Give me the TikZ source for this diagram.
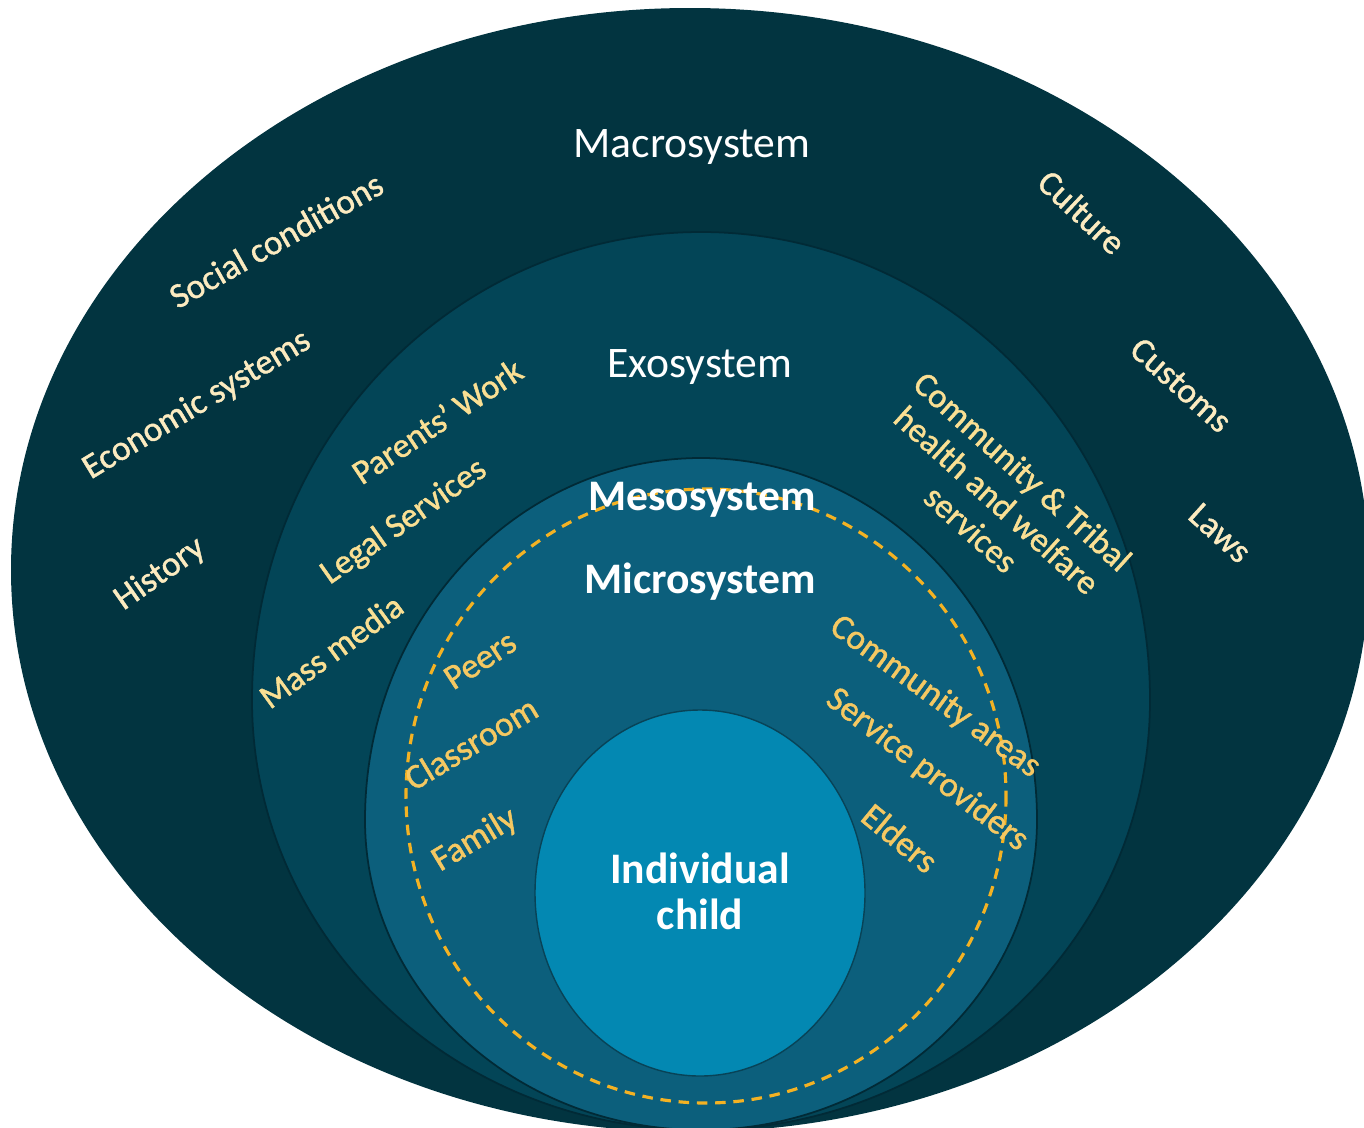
\documentclass[tikz,border=0pt]{standalone}
\usepackage{fontspec}
\setmainfont{Carlito}
\newfontfamily\labfont{Carlito}[RawFeature={embolden=1.2}]
\definecolor{macrocol}{HTML}{023440}
\definecolor{exocol}{HTML}{034557}
\definecolor{mesocol}{HTML}{0C5F7C}
\definecolor{childcol}{HTML}{0388B2}
\definecolor{edgecol}{HTML}{012A36}
\definecolor{dashcol}{HTML}{F4B223}
\definecolor{maclabcol}{HTML}{FCEBC0}
\definecolor{exolabcol}{HTML}{FADF93}
\definecolor{miclabcol}{HTML}{F5C862}
\begin{document}
\begin{tikzpicture}[x=0.01cm,y=-0.01cm,
  ring/.style={draw=edgecol, line width=0.5pt},
  title/.style={text=white, inner sep=0pt, font=\fontsize{12.4}{14}\selectfont},
  titleb/.style={text=white, inner sep=0pt, align=center, font=\fontsize{12.4}{13.1}\bfseries\selectfont},
  maclab/.style={text=maclabcol, inner sep=0pt, font=\labfont\fontsize{10}{12}\selectfont},
  exolab/.style={text=exolabcol, inner sep=0pt, align=center, font=\labfont\fontsize{9.8}{11}\selectfont},
  miclab/.style={text=miclabcol, inner sep=0pt, font=\labfont\fontsize{10}{12}\selectfont},
  dashring/.style={draw=dashcol, line width=0.9pt, dash pattern=on 3pt off 2.2pt}
]
\useasboundingbox (0,0) rectangle (1364,1127);
\fill[white] (0,0) rectangle (1364,1127);
\clip (0,0) rectangle (1364,1127);
% rings (egg shapes: upper and lower half ellipses)
\fill[macrocol] (11,570) arc[start angle=180, end angle=360, x radius=679, y radius=562]
  arc[start angle=0, end angle=180, x radius=679, y radius=562] -- cycle;
\filldraw[fill=exocol, ring] (252,700) arc[start angle=180, end angle=360, x radius=449, y radius=468]
  arc[start angle=0, end angle=180, x radius=449, y radius=430] -- cycle;
\filldraw[fill=mesocol, ring] (365,820) arc[start angle=180, end angle=360, x radius=336, y radius=362]
  arc[start angle=0, end angle=180, x radius=336, y radius=310] -- cycle;
\filldraw[fill=childcol, draw=mesocol!70!black, line width=0.4pt] (700,893) ellipse [x radius=165, y radius=183];
\draw[dashring] (706,796) ellipse [x radius=300, y radius=307];
% titles
\node[title] (macro) at (692,147) {Macrosystem};
\node[title] (exo) at (700,367) {Exosystem};
\node[titleb] (meso) at (702,500) {Mesosystem};
\node[titleb] (micro) at (700,582) {Microsystem};
\node[titleb] (child) at (700,891) {Individual\\child};
% macrosystem labels
\node[maclab, rotate=29.5] (social) at (276,240) {Social conditions};
\node[maclab, rotate=31] (econ) at (197,405) {Economic systems};
\node[maclab, rotate=35] (hist) at (160,574) {History};
\node[maclab, rotate=-43] (cult) at (1082,212) {Culture};
\node[maclab, rotate=-42] (cust) at (1181,385) {Customs};
\node[maclab, rotate=-42] (laws) at (1220,533) {Laws};
% exosystem labels
\node[exolab, rotate=33.7] (parents) at (437,421) {Parents’ Work};
\node[exolab, rotate=35] (legal) at (404,522) {Legal Services};
\node[exolab, rotate=36] (mass) at (331,651) {Mass media};
\node[exolab, rotate=-42] (comm) at (997,500) {Community \& Tribal\\health and welfare\\services};
% microsystem labels
\node[miclab, rotate=33] (peers) at (480,660) {Peers};
\node[miclab, rotate=31] (class) at (471,743) {Classroom};
\node[miclab, rotate=31] (family) at (475,840) {Family};
\node[miclab, rotate=-36] (areas) at (935,697) {Community areas};
\node[miclab, rotate=-37.5] (serv) at (927,770) {Service providers};
\node[miclab, rotate=-39.6] (elders) at (900,838) {Elders};
\end{tikzpicture}
\end{document}
